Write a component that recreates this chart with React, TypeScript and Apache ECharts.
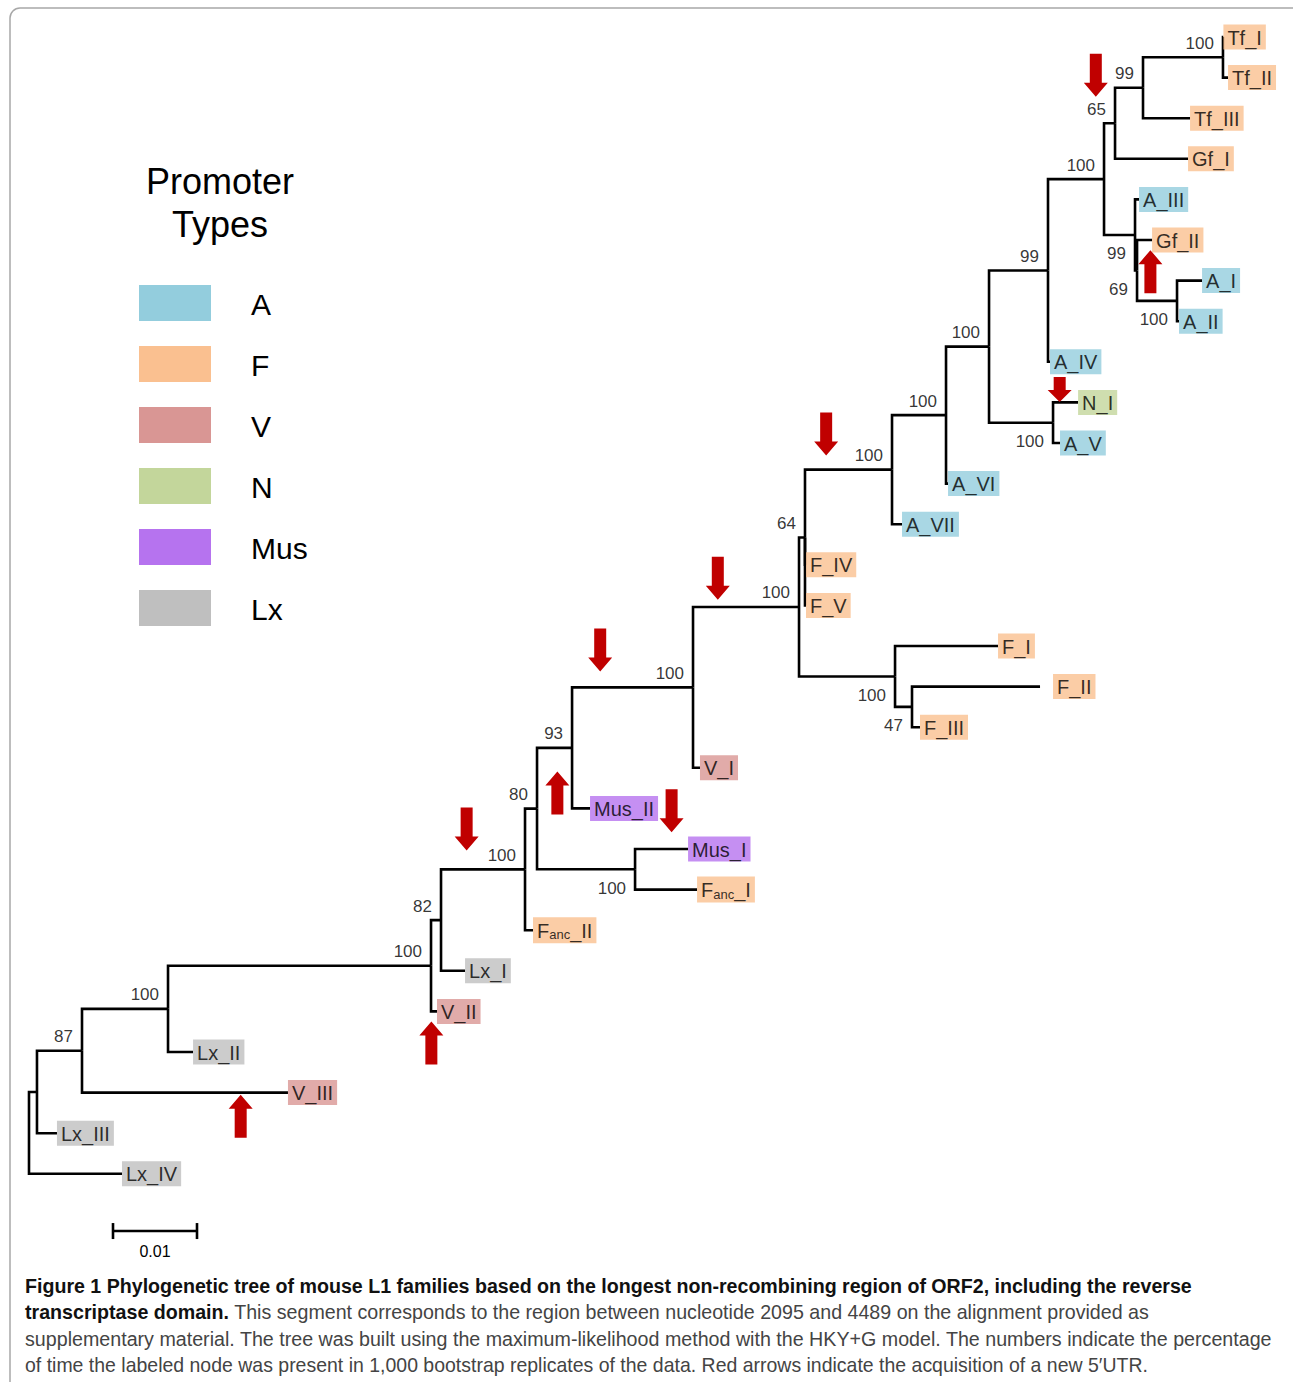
import React, { useEffect, useRef } from 'react';
import * as echarts from 'echarts';

// ---------------- DATA ----------------
const leafNames = ['Tf_I', 'Tf_II', 'Tf_III', 'Gf_I', 'A_III', 'Gf_II', 'A_I', 'A_II', 'A_IV', 'N_I', 'A_V', 'A_VI', 'A_VII', 'F_IV', 'F_V', 'F_I', 'F_II', 'F_III', 'V_I', 'Mus_II', 'Mus_I', 'F_anc_I', 'F_anc_II', 'Lx_I', 'V_II', 'Lx_II', 'V_III', 'Lx_III', 'Lx_IV'];
const leafTypes = ['F', 'F', 'F', 'F', 'A', 'F', 'A', 'A', 'A', 'N', 'A', 'A', 'A', 'F', 'F', 'F', 'F', 'F', 'V', 'Mus', 'Mus', 'F', 'F', 'Lx', 'V', 'Lx', 'V', 'Lx', 'Lx'];

// [child, parent, branch length (substitutions / site)]
const treeEdges: [string, string, number][] = [
  ['n1', 'root', 0.00095], ['Lx_IV', 'root', 0.01107],
  ['n2', 'n1', 0.00536], ['Lx_III', 'n1', 0.00238],
  ['n3', 'n2', 0.01024], ['V_III', 'n2', 0.02452],
  ['n4', 'n3', 0.03131], ['Lx_II', 'n3', 0.00298],
  ['n5', 'n4', 0.00119], ['V_II', 'n4', 0.00071],
  ['n6', 'n5', 0.01], ['Lx_I', 'n5', 0.00286],
  ['n7', 'n6', 0.00143], ['F_anc_II', 'n6', 0.00095],
  ['n8', 'n7', 0.00417], ['n9', 'n7', 0.01167],
  ['Mus_I', 'n9', 0.00631], ['F_anc_I', 'n9', 0.00738],
  ['n10', 'n8', 0.0144], ['Mus_II', 'n8', 0.00214],
  ['n11', 'n10', 0.01262], ['V_I', 'n10', 0.00083],
  ['n12', 'n11', 0.00071], ['n13', 'n11', 0.01143],
  ['F_I', 'n13', 0.01226], ['n15', 'n13', 0.00202],
  ['F_II', 'n15', 0.01524], ['F_III', 'n15', 0.00095],
  ['n14', 'n12', 0.01036], ['F_IV', 'n12', 0.00012], ['F_V', 'n12', 0.00012],
  ['n16', 'n14', 0.00643], ['A_VII', 'n14', 0.00119],
  ['n17', 'n16', 0.00512], ['A_VI', 'n16', 0.00024],
  ['n18', 'n17', 0.00702], ['n19', 'n17', 0.00762],
  ['N_I', 'n19', 0.00298], ['A_V', 'n19', 0.00083],
  ['n20', 'n18', 0.00667], ['A_IV', 'n18', 0.00024],
  ['n21', 'n20', 0.00131], ['n22', 'n20', 0.00369],
  ['n23', 'n21', 0.00333], ['Gf_I', 'n21', 0.00869],
  ['n24', 'n23', 0.00952], ['Tf_III', 'n23', 0.0056],
  ['Tf_I', 'n24', 0.00005], ['Tf_II', 'n24', 0.0006],
  ['A_III', 'n22', 0.00048], ['n25', 'n22', 0.00024],
  ['Gf_II', 'n25', 0.00179], ['n26', 'n25', 0.00476],
  ['A_I', 'n26', 0.00298], ['A_II', 'n26', 0.00024],
];

const bootstrapNodes = ['n2', 'n3', 'n4', 'n5', 'n6', 'n7', 'n8', 'n9', 'n10', 'n11', 'n12', 'n13', 'n15', 'n14', 'n16', 'n17', 'n19', 'n18', 'n20', 'n21', 'n23', 'n24', 'n22', 'n25', 'n26'];
const bootstrapValues = [87, 100, 100, 82, 100, 80, 93, 100, 100, 100, 64, 100, 47, 100, 100, 100, 100, 99, 100, 65, 99, 100, 99, 69, 100];
const bootstrapSide = ['above', 'above', 'above', 'above', 'above', 'above', 'above', 'below', 'above', 'above', 'above', 'below', 'below', 'above', 'above', 'above', 'below', 'above', 'above', 'above', 'above', 'above', 'below', 'below', 'below'];

// red arrows: divergence position, row position, direction, size
const arrowX = [0.127, 0.1335, 0.1227, 0.0949, 0.082, 0.068, 0.0629, 0.0765, 0.0521, 0.0479, 0.0252];
const arrowY = [0.94, 5.78, 8.68, 9.78, 13.33, 15.1, 18.62, 19.06, 19.51, 24.78, 26.58];
const arrowDir = ['down', 'up', 'down', 'down', 'down', 'down', 'up', 'down', 'down', 'up', 'up'];
const arrowSmall = [false, false, true, false, false, false, false, false, false, false, false];

const promoterTypes = ['A', 'F', 'V', 'N', 'Mus', 'Lx'];
const promoterColors = ['#93cddd', '#fac090', '#d99694', '#c3d69b', '#b673ef', '#bfbfbf'];

const scaleBarLength = 0.01;
const scaleBarLabel = '0.01';
const scaleBarStart = 0.01;
const scaleBarRow = 29.41;

const legendTitle = ['Promoter', 'Types'];

const captionBold = [
  'Figure 1 Phylogenetic tree of mouse L1 families based on the longest non-recombining region of ORF2, including the reverse',
  'transcriptase domain.',
  '',
  '',
];
const captionRest = [
  '',
  ' This segment corresponds to the region between nucleotide 2095 and 4489 on the alignment provided as',
  'supplementary material. The tree was built using the maximum-likelihood method with the HKY+G model. The numbers indicate the percentage',
  'of time the labeled node was present in 1,000 bootstrap replicates of the data. Red arrows indicate the acquisition of a new 5\u2032UTR.',
];
const captionWidths = [1167, 1125, 1247, 1123];

// ---------------- LAYOUT / STYLE ----------------
const W = 1293;
const H = 1382;
const FONT = '"Liberation Sans", Arial, Helvetica, sans-serif';
const CAP_FONT = '"Liberation Sans Narrow", "Liberation Sans", sans-serif';
const CAP_SIZE = 20;

function buildTree() {
  const parentOf: Record<string, string> = {};
  const lenOf: Record<string, number> = {};
  const children: Record<string, string[]> = {};
  treeEdges.forEach(([c, p, l]) => {
    parentOf[c] = p;
    lenOf[c] = l;
    (children[p] = children[p] || []).push(c);
  });
  const xOf: Record<string, number> = { root: 0 };
  const depth = (n: string): number => {
    if (xOf[n] !== undefined) return xOf[n];
    xOf[n] = depth(parentOf[n]) + lenOf[n];
    return xOf[n];
  };
  const yOf: Record<string, number> = {};
  leafNames.forEach((n, i) => (yOf[n] = i));
  const yCalc = (n: string): number => {
    if (yOf[n] !== undefined) return yOf[n];
    const ys = children[n].map(yCalc);
    yOf[n] = (Math.min(...ys) + Math.max(...ys)) / 2;
    return yOf[n];
  };
  yCalc('root');
  treeEdges.forEach(([c]) => depth(c));
  return { xOf, yOf };
}

function measure(text: string, font: string) {
  const c = document.createElement('canvas').getContext('2d')!;
  c.font = font;
  return c.measureText(text).width;
}

function buildOption() {
  const { xOf, yOf } = buildTree();
  const edgeRows = treeEdges.map(([c, p]) => [xOf[p], yOf[p], xOf[c], yOf[c]]);
  const typeColor = (t: string) => promoterColors[promoterTypes.indexOf(t)];

  const leafData = leafNames.map((n, i) => ({
    name: n,
    value: [xOf[n], yOf[n]],
    label: { backgroundColor: typeColor(leafTypes[i]), distance: n === 'F_II' ? 13 : 0 },
  }));

  const bsData = bootstrapNodes.map((n, i) => ({
    value: [xOf[n], yOf[n]],
    name: String(bootstrapValues[i]),
    label: { offset: [0, bootstrapSide[i] === 'above' ? -14 : 19] },
  }));

  const bigArrow = 'path://M6,0L18,0L18,29L24,29L12,43L0,29L6,29Z';
  const smallArrow = 'path://M6,0L18,0L18,13L24,13L12,25L0,13L6,13Z';
  const arrowData = arrowX.map((x, i) => ({
    value: [x, arrowY[i]],
    symbol: arrowSmall[i] ? smallArrow : bigArrow,
    symbolSize: arrowSmall[i] ? [24, 25] : [24, 43],
    symbolRotate: arrowDir[i] === 'up' ? 180 : 0,
  }));

  // legend graphics
  const legendEls: any[] = [];
  legendTitle.forEach((t, i) => {
    legendEls.push({
      type: 'text', x: 220, y: 181 + i * 43,
      style: { text: t, font: `36px ${FONT}`, fill: '#000', align: 'center', verticalAlign: 'middle' },
    });
  });
  promoterTypes.forEach((t, i) => {
    legendEls.push({
      type: 'rect', shape: { x: 139, y: 285 + i * 61, width: 72, height: 36 },
      style: { fill: promoterColors[i] },
    });
    legendEls.push({
      type: 'text', x: 251, y: 304 + i * 61,
      style: { text: t, font: `30px ${FONT}`, fill: '#000', align: 'left', verticalAlign: 'middle' },
    });
  });

  // caption
  const boldFont = `bold ${CAP_SIZE}px ${CAP_FONT}`;
  const normFont = `${CAP_SIZE}px ${CAP_FONT}`;
  const captionEls = captionBold.map((b, i) => {
    const r = captionRest[i];
    const w = (b ? measure(b, boldFont) : 0) + (r ? measure(r, normFont) : 0);
    const text = (b ? `{b|${b}}` : '') + (r ? `{r|${r.replace(/\|/g, '')}}` : '');
    return {
      type: 'text', x: 25, y: 1286 + i * 26.3,
      scaleX: w > 0 ? captionWidths[i] / w : 1,
      style: {
        text,
        verticalAlign: 'middle',
        align: 'left',
        rich: {
          b: { fontFamily: CAP_FONT, fontSize: CAP_SIZE, fontWeight: 'bold', fill: '#111' },
          r: { fontFamily: CAP_FONT, fontSize: CAP_SIZE, fill: '#444' },
        },
      },
    };
  });

  return {
    animation: false,
    backgroundColor: '#ffffff',
    grid: { left: 29, top: 37, width: 1260, height: 1218 },
    xAxis: { type: 'value', min: 0, max: 0.15, show: false },
    yAxis: { type: 'value', min: 0, max: 30, inverse: true, show: false },
    graphic: [
      {
        type: 'rect', z: -10,
        shape: { x: 10, y: 8, width: 1320, height: 1420, r: 10 },
        style: { fill: null, stroke: '#a8a8a8', lineWidth: 1.5 },
      },
      ...legendEls,
      ...captionEls,
    ],
    series: [
      {
        type: 'custom',
        name: 'branches',
        clip: false,
        silent: true,
        encode: { x: [0, 2], y: [1, 3] },
        data: edgeRows,
        renderItem: (params: any, api: any) => {
          const p0 = api.coord([api.value(0), api.value(1)]);
          const p1 = api.coord([api.value(0), api.value(3)]);
          const p2 = api.coord([api.value(2), api.value(3)]);
          return {
            type: 'polyline',
            shape: { points: [p0, p1, p2] },
            style: { stroke: '#000', lineWidth: 2.6, fill: null, lineJoin: 'miter', lineCap: 'butt' },
          };
        },
        z: 2,
      },
      {
        type: 'custom',
        name: 'scale bar',
        clip: false,
        silent: true,
        encode: { x: [0, 1], y: 2 },
        data: [[scaleBarStart, scaleBarStart + scaleBarLength, scaleBarRow]],
        renderItem: (params: any, api: any) => {
          const a = api.coord([api.value(0), api.value(2)]);
          const b = api.coord([api.value(1), api.value(2)]);
          const st = { stroke: '#000', lineWidth: 2.6 };
          return {
            type: 'group',
            children: [
              { type: 'line', shape: { x1: a[0], y1: a[1], x2: b[0], y2: b[1] }, style: st },
              { type: 'line', shape: { x1: a[0], y1: a[1] - 8, x2: a[0], y2: a[1] + 8 }, style: st },
              { type: 'line', shape: { x1: b[0], y1: b[1] - 8, x2: b[0], y2: b[1] + 8 }, style: st },
              {
                type: 'text', x: (a[0] + b[0]) / 2, y: a[1] + 20,
                style: { text: scaleBarLabel, font: `16px ${FONT}`, fill: '#000', align: 'center', verticalAlign: 'middle' },
              },
            ],
          };
        },
      },
      {
        type: 'scatter',
        name: 'leaves',
        silent: true,
        symbolSize: 0,
        data: leafData,
        z: 3,
        label: {
          show: true,
          position: 'right',
          distance: 0,
          color: '#000',
          fontFamily: FONT,
          fontSize: 20,
          padding: [3, 4, 2, 4],
          formatter: (p: any) => {
            const parts = p.name.split('_');
            if (parts[1] === 'anc') return `{n|F}{s|anc}{n|_${parts[2]}}`;
            return p.name;
          },
          rich: {
            n: { fontFamily: FONT, fontSize: 20, color: '#000', lineHeight: 21 },
            s: { fontFamily: FONT, fontSize: 13, color: '#000', lineHeight: 11, verticalAlign: 'bottom' },
          },
        },
      },
      {
        type: 'scatter',
        name: 'bootstrap',
        silent: true,
        symbolSize: 0,
        data: bsData,
        z: 3,
        label: {
          show: true,
          position: 'left',
          distance: 9,
          color: '#000',
          fontFamily: FONT,
          fontSize: 17,
          formatter: (p: any) => p.name,
        },
      },
      {
        type: 'scatter',
        name: 'arrows',
        silent: true,
        data: arrowData,
        z: 4,
        itemStyle: { color: '#c00000', opacity: 1 },
      },
    ],
  };
}

export default function App() {
  const ref = useRef<HTMLDivElement>(null);
  useEffect(() => {
    const chart = echarts.init(ref.current!, null, { renderer: 'svg' });
    chart.setOption(buildOption() as any);
    return () => chart.dispose();
  }, []);
  return (
    <div style={{ position: 'absolute', left: 0, top: 0, width: W, height: H, background: '#fff', overflow: 'hidden' }}>
      <div ref={ref} style={{ width: W, height: H }} />
    </div>
  );
}
